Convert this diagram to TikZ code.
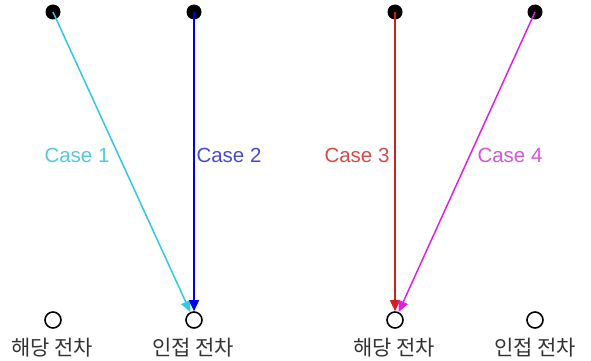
\documentclass[tikz,border=0pt]{standalone}
\usepackage{fontspec}
\setmainfont{Liberation Sans}
\newfontfamily\kor{Noto Sans CJK KR}
\usetikzlibrary{arrows.meta}
\definecolor{cA}{HTML}{33C6E6}
\definecolor{cB}{HTML}{0000F0}
\definecolor{cC}{HTML}{CC2222}
\definecolor{cD}{HTML}{E020E0}
\definecolor{lA}{HTML}{55C8E0}
\definecolor{lB}{HTML}{4A4AD0}
\definecolor{lC}{HTML}{D84A4A}
\definecolor{lD}{HTML}{D058D8}
\definecolor{kt}{HTML}{333333}
\tikzset{
  dot/.style={circle,fill=black,minimum size=15pt,inner sep=0pt},
  ring/.style={circle,draw=black,line width=1.6pt,minimum size=16pt,inner sep=0pt},
  caselbl/.style={font=\fontsize{20.5}{22}\selectfont},
  korlbl/.style={font=\kor\fontsize{21}{23}\selectfont,text=kt},
  arr/.style={line width=1.5pt,-{Triangle[length=11pt,width=10pt]}}
}
\begin{document}
\begin{tikzpicture}[x=1pt,y=-1pt]
\useasboundingbox (0,0) rectangle (591,361);
\node[dot] (t1) at (53,12) {};
\node[dot] (t2) at (194,12) {};
\node[dot] (t3) at (395,12) {};
\node[dot] (t4) at (535,12) {};
\node[ring] (b1) at (53,320) {};
\node[ring] (b2) at (194,320) {};
\node[ring] (b3) at (395,320) {};
\node[ring] (b4) at (535,320) {};
\node[korlbl] (k1) at (52,348) {해당 전차};
\node[korlbl] (k2) at (193,348) {인접 전차};
\node[korlbl] (k3) at (394,348) {해당 전차};
\node[korlbl] (k4) at (535,348) {인접 전차};
\draw[arr,cA] (t1.center) -- (b2);
\draw[arr,cB] (t2.center) -- (b2);
\draw[arr,cC] (t3.center) -- (b3);
\draw[arr,cD] (t4.center) -- (b3);
\node[caselbl,text=lA] (c1) at (77,155) {Case 1};
\node[caselbl,text=lB] (c2) at (229,155) {Case 2};
\node[caselbl,text=lC] (c3) at (357,155) {Case 3};
\node[caselbl,text=lD] (c4) at (510,155) {Case 4};
\end{tikzpicture}
\end{document}
